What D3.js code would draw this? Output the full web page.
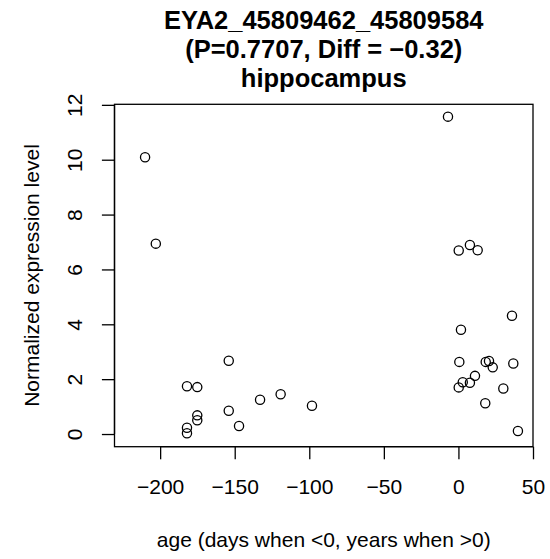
<!DOCTYPE html>
<html>
<head>
<meta charset="utf-8">
<script src="https://cdn.jsdelivr.net/npm/d3@7"></script>
<style>
  html, body { margin: 0; padding: 0; background: #fff; }
  svg { display: block; }
  text { font-family: "Liberation Sans", Arial, Helvetica, sans-serif; fill: #000; }
</style>
</head>
<body>
<svg id="chart" width="550" height="559"></svg>
<script>
// ---- data ----
const titleLines = ["EYA2_45809462_45809584", "(P=0.7707, Diff = \u22120.32)", "hippocampus"];
const xLabel = "age (days when <0, years when >0)";
const yLabel = "Normalized expression level";
const xTicks = [-200, -150, -100, -50, 0, 50];
const yTicks = [0, 2, 4, 6, 8, 10, 12];
const ages = [
  -210.1, -202.9, -182.0, -175.1, -175.1, -175.1, -182.0, -182.0,
  -154.0, -154.0, -147.1, -133.0, -119.2, -98.2,
  -7.0, 0.2, 7.7, 12.9, 35.9, 1.7, 0.6, 18.3, 20.5, 23.0, 36.8,
  11.1, 2.9, 7.7, 0.2, 30.1, 18.0, 39.9
];
const expression = [
  10.09, 6.94, 1.74, 1.71, 0.68, 0.50, 0.23, 0.03,
  2.67, 0.85, 0.29, 1.25, 1.45, 1.03,
  11.57, 6.69, 6.89, 6.70, 4.31, 3.80, 2.63, 2.63, 2.66, 2.43, 2.57,
  2.12, 1.89, 1.87, 1.70, 1.66, 1.12, 0.11
];

// ---- layout ----
const svg = d3.select("#chart");
const plot = { left: 114.5, right: 533, top: 104.3, bottom: 446.7 };
const x = d3.scaleLinear().domain([-230.6, 50]).range([plot.left, plot.right]);
const y = d3.scaleLinear().domain([-0.462, 12.02]).range([plot.bottom, plot.top]);
const axisFont = "21px";

const fmt = d => (d < 0 ? "\u2212" + Math.abs(d) : String(d));

// title
const title = svg.append("g");
titleLines.forEach((t, i) => {
  title.append("text")
    .attr("x", (plot.left + plot.right) / 2)
    .attr("y", 29 + i * 29)
    .attr("text-anchor", "middle")
    .style("font-weight", "bold")
    .style("font-size", "25.5px")
    .text(t);
});

// x axis
const xAxis = d3.axisBottom(x).tickValues(xTicks).tickSize(12.6).tickPadding(0).tickFormat(fmt);
const gx = svg.append("g").attr("transform", `translate(0,${plot.bottom})`).call(xAxis);
gx.select(".domain").attr("d", `M${x(xTicks[0])},0H${x(xTicks[xTicks.length - 1])}`)
  .attr("stroke", "#000").attr("stroke-width", 1.3);
gx.selectAll(".tick line").attr("stroke", "#000").attr("stroke-width", 1.3);
gx.selectAll(".tick text")
  .attr("y", 47).attr("dy", null)
  .style("font-size", axisFont).style("font-family", "Liberation Sans, Arial, sans-serif").attr("fill", "#000");

// y axis
const yAxis = d3.axisLeft(y).tickValues(yTicks).tickSize(12.6).tickPadding(0).tickFormat(fmt);
const gy = svg.append("g").attr("transform", `translate(${plot.left},0)`).call(yAxis);
gy.select(".domain").attr("d", `M0,${y(yTicks[0])}V${y(yTicks[yTicks.length - 1])}`)
  .attr("stroke", "#000").attr("stroke-width", 1.3);
gy.selectAll(".tick line").attr("stroke", "#000").attr("stroke-width", 1.3);
gy.selectAll(".tick text")
  .attr("x", null).attr("dy", null)
  .attr("transform", "translate(-32.5,0) rotate(-90)")
  .attr("text-anchor", "middle")
  .style("font-size", axisFont).style("font-family", "Liberation Sans, Arial, sans-serif").attr("fill", "#000");

// frame
svg.append("rect")
  .attr("x", plot.left).attr("y", plot.top)
  .attr("width", plot.right - plot.left).attr("height", plot.bottom - plot.top)
  .attr("fill", "none").attr("stroke", "#000").attr("stroke-width", 1.3);

// axis titles
svg.append("text")
  .attr("x", (plot.left + plot.right) / 2).attr("y", 547)
  .attr("text-anchor", "middle").style("font-size", axisFont)
  .text(xLabel);
svg.append("text")
  .attr("transform", `translate(38.5,${(plot.top + plot.bottom) / 2}) rotate(-90)`)
  .attr("text-anchor", "middle").style("font-size", axisFont)
  .text(yLabel);

// points
svg.append("g").selectAll("circle")
  .data(ages.map((a, i) => ({ a, e: expression[i] })))
  .join("circle")
  .attr("cx", d => x(d.a)).attr("cy", d => y(d.e))
  .attr("r", 4.6)
  .attr("fill", "none").attr("stroke", "#000").attr("stroke-width", 1.3);
</script>
</body>
</html>
